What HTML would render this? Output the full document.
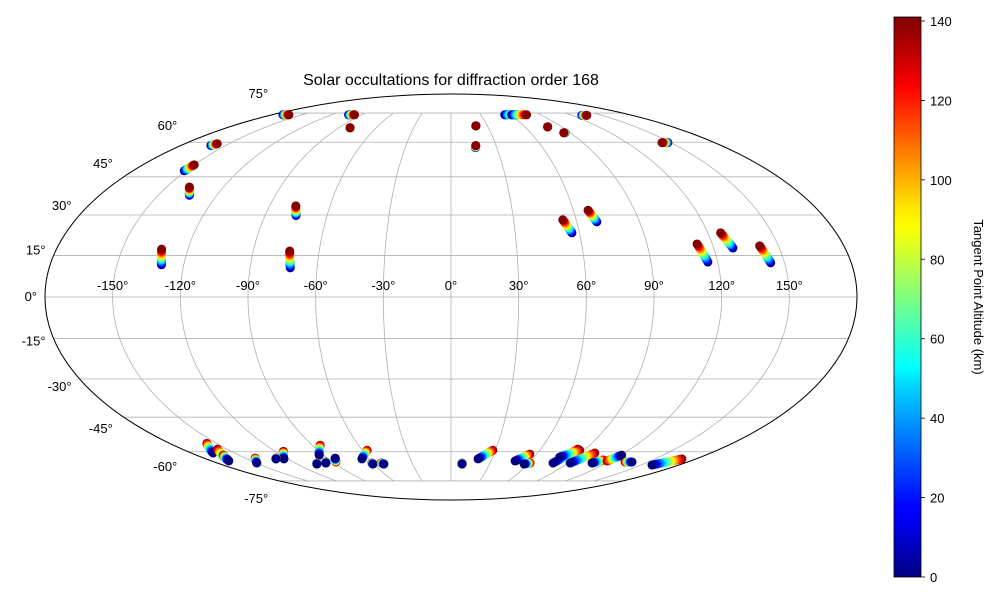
<!DOCTYPE html>
<html><head><meta charset="utf-8">
<style>
body{margin:0;background:#fff;}
svg{display:block;font-family:"Liberation Sans","DejaVu Sans",sans-serif;}
</style></head>
<body>
<svg id="chart" width="1000" height="600" viewBox="0 0 1000 600" xmlns="http://www.w3.org/2000/svg">
<defs>
<linearGradient id="jet" x1="0" y1="1" x2="0" y2="0">
<stop offset="0" stop-color="#00007f"/><stop offset="0.11" stop-color="#0000ff"/>
<stop offset="0.125" stop-color="#0000ff"/><stop offset="0.34" stop-color="#00d4ff"/>
<stop offset="0.375" stop-color="#00ffff"/><stop offset="0.5" stop-color="#7fff7f"/>
<stop offset="0.625" stop-color="#ffff00"/><stop offset="0.66" stop-color="#ffe600"/>
<stop offset="0.875" stop-color="#ff0000"/><stop offset="1" stop-color="#7f0000"/>
</linearGradient>
</defs>
<text x="451" y="85" font-size="16" text-anchor="middle">Solar occultations for diffraction order 168</text>
<g id="grid"></g>
<g id="labels" font-size="13"></g>
<g id="points"></g>
<g>
<rect x="894" y="17" width="27" height="560" fill="url(#jet)" stroke="#000" stroke-width="0.8"/>
<g id="cbticks" font-size="13"></g>
<text font-size="13" transform="translate(974,297) rotate(90)" text-anchor="middle">Tangent Point Altitude (km)</text>
</g>
</svg>
<script>
// occultation tracks: position at 0 km and at 140 km altitude (degrees)
const lon0=[-130,-72,-75,-134,-151,-160,-169,-103,-81,20.5,16,54,61,78.6,86,130,148,56.5,69.6,115.6,128.8,143.8,
 -164.9,-167.1,-165.9,-149.6,-122.8,-128.7,-93.2,-104.6,-96.4,-84.4,-65.5,-60.9,-52.3,8.6,19.9,48.2,57,78.6,78.4,91.8,108.7,120.7,137.8,158.8];
const lat0=[11.6,10.5,29.8,37.6,47.5,58.5,74,74,67,68,57.5,74,74,67.5,64.5,73.7,59.8,23.3,27.4,12.6,17.7,12.3,
 -60.6,-64.4,-63.9,-65.4,-63.4,-63.4,-61.6,-65.9,-65.4,-63,-63.4,-65.9,-65.9,-65.9,-63.4,-64.4,-65.9,-65.4,-62.5,-65.4,-65.4,-61.6,-64.9,-66.4];
const lon1=[-132,-73.4,-77,-138,-150,-158,-163,-97,-81,20.5,16.5,67,76,78.6,85,135,144,53.6,67.2,113,126,141.4,
 -156.3,-156.4,-161,-142.7,-114.4,-127.4,-84.9,-103.3,-95.2,-87.6,-56.7,-61,-53.9,8.5,28.3,55.2,60.9,84.9,87,99.7,113.1,117.4,132.5,169.8];
const lat1=[17.3,16.6,33.5,40.9,50,59.3,74,74,67,68,58.5,74,74,67.5,64.5,73.7,59.8,28.2,31.8,19.2,23.3,18.5,
 -56.2,-58.8,-61.6,-63,-59.8,-63,-57,-65.4,-64.9,-64.9,-59.3,-65.4,-65.4,-65.4,-59.3,-61.1,-65.4,-58.8,-59.3,-60.6,-63.9,-64.4,-64.9,-63.4];
const altSteps=[0,10,20,30,40,50,60,70,80,90,100,110,120,130,140];
const latTicks=[-75,-60,-45,-30,-15,0,15,30,45,60,75];
const lonTicks=[-150,-120,-90,-60,-30,0,30,60,90,120,150];
const cbTicks=[0,20,40,60,80,100,120,140];

const NS='http://www.w3.org/2000/svg';
const CX=451,CY=297,RX=406,RY=203;
function theta(phi){let p=phi*Math.PI/180;if(Math.abs(p)>=Math.PI/2-1e-9)return p;let t=p;for(let i=0;i<50;i++){let f=2*t+Math.sin(2*t)-Math.PI*Math.sin(p);t-=f/(2+2*Math.cos(2*t));}return t;}
function proj(lon,lat){const t=theta(lat);return [CX+RX*(lon/180)*Math.cos(t),CY-RY*Math.sin(t)];}
function jet(v){const x=Math.max(0,Math.min(1,v));const f=(a)=>Math.max(0,Math.min(1,a));
 const r=f(1.5-Math.abs(4*x-3)),g=f(1.5-Math.abs(4*x-2)),b=f(1.5-Math.abs(4*x-1));
 return 'rgb('+Math.round(r*255)+','+Math.round(g*255)+','+Math.round(b*255)+')';}
function mk(tag,attrs,parent){const e=document.createElementNS(NS,tag);for(const k in attrs)e.setAttribute(k,attrs[k]);parent.appendChild(e);return e;}

const grid=document.getElementById('grid');
for(const la of latTicks){
 const a=proj(-180,la),b=proj(180,la);
 const l=mk('line',{x1:a[0],y1:a[1],x2:b[0],y2:b[1],stroke:'#b0b0b0','stroke-width':0.8},grid);
 
 
}
for(let lo=-180;lo<=180;lo+=30){
 let d='';for(let la=-75;la<=75;la+=1){const p=proj(lo,la);d+=(d?'L':'M')+p[0].toFixed(2)+' '+p[1].toFixed(2);}
 const m=mk('path',{d:d,fill:'none',stroke:'#b0b0b0','stroke-width':0.8},grid);
 
 
}
const out=mk('ellipse',{cx:CX,cy:CY,rx:RX,ry:RY,fill:'none',stroke:'#000','stroke-width':1},grid);



const labels=document.getElementById('labels');
for(const lo of lonTicks){
 const p=proj(lo,0);
 const t=mk('text',{x:p[0],y:p[1]-7,'text-anchor':'middle'},labels);t.textContent=lo+'°';
 
 
}
const yoff={'75':-15,'60':-12,'45':-9,'30':-5,'15':-1,'0':4,'-15':7,'-30':12,'-45':16,'-60':19,'-75':22};
for(const la of latTicks){
 const p=proj(-180,la);
 const t=mk('text',{x:p[0]-8-(Math.abs(la)>=45?3:0),y:p[1]+yoff[String(la)],'text-anchor':'end'},labels);t.textContent=la+'°';
 
 
}

const pts=document.getElementById('points');
for(let i=0;i<lon0.length;i++){
 const g=mk('g',{},pts);
 
 
 const order=lat0[i]<0?altSteps.slice().reverse():altSteps;
 for(const a of order){
  const f=a/140;
  const lo=lon0[i]+(lon1[i]-lon0[i])*f, la=lat0[i]+(lat1[i]-lat0[i])*f;
  const p=proj(lo,la);
  const c=mk('circle',{cx:p[0],cy:p[1],r:4.5,fill:jet(a/141)},g);
  
  
 }
}

const cb=document.getElementById('cbticks');
for(const v of cbTicks){
 const y=577-v/141*560;
 const l=mk('line',{x1:921,y1:y,x2:925,y2:y,stroke:'#000','stroke-width':0.8},cb);
 
 
 const t=mk('text',{x:930,y:y+5},cb);t.textContent=v;
 
 
}
</script>
</body></html>
